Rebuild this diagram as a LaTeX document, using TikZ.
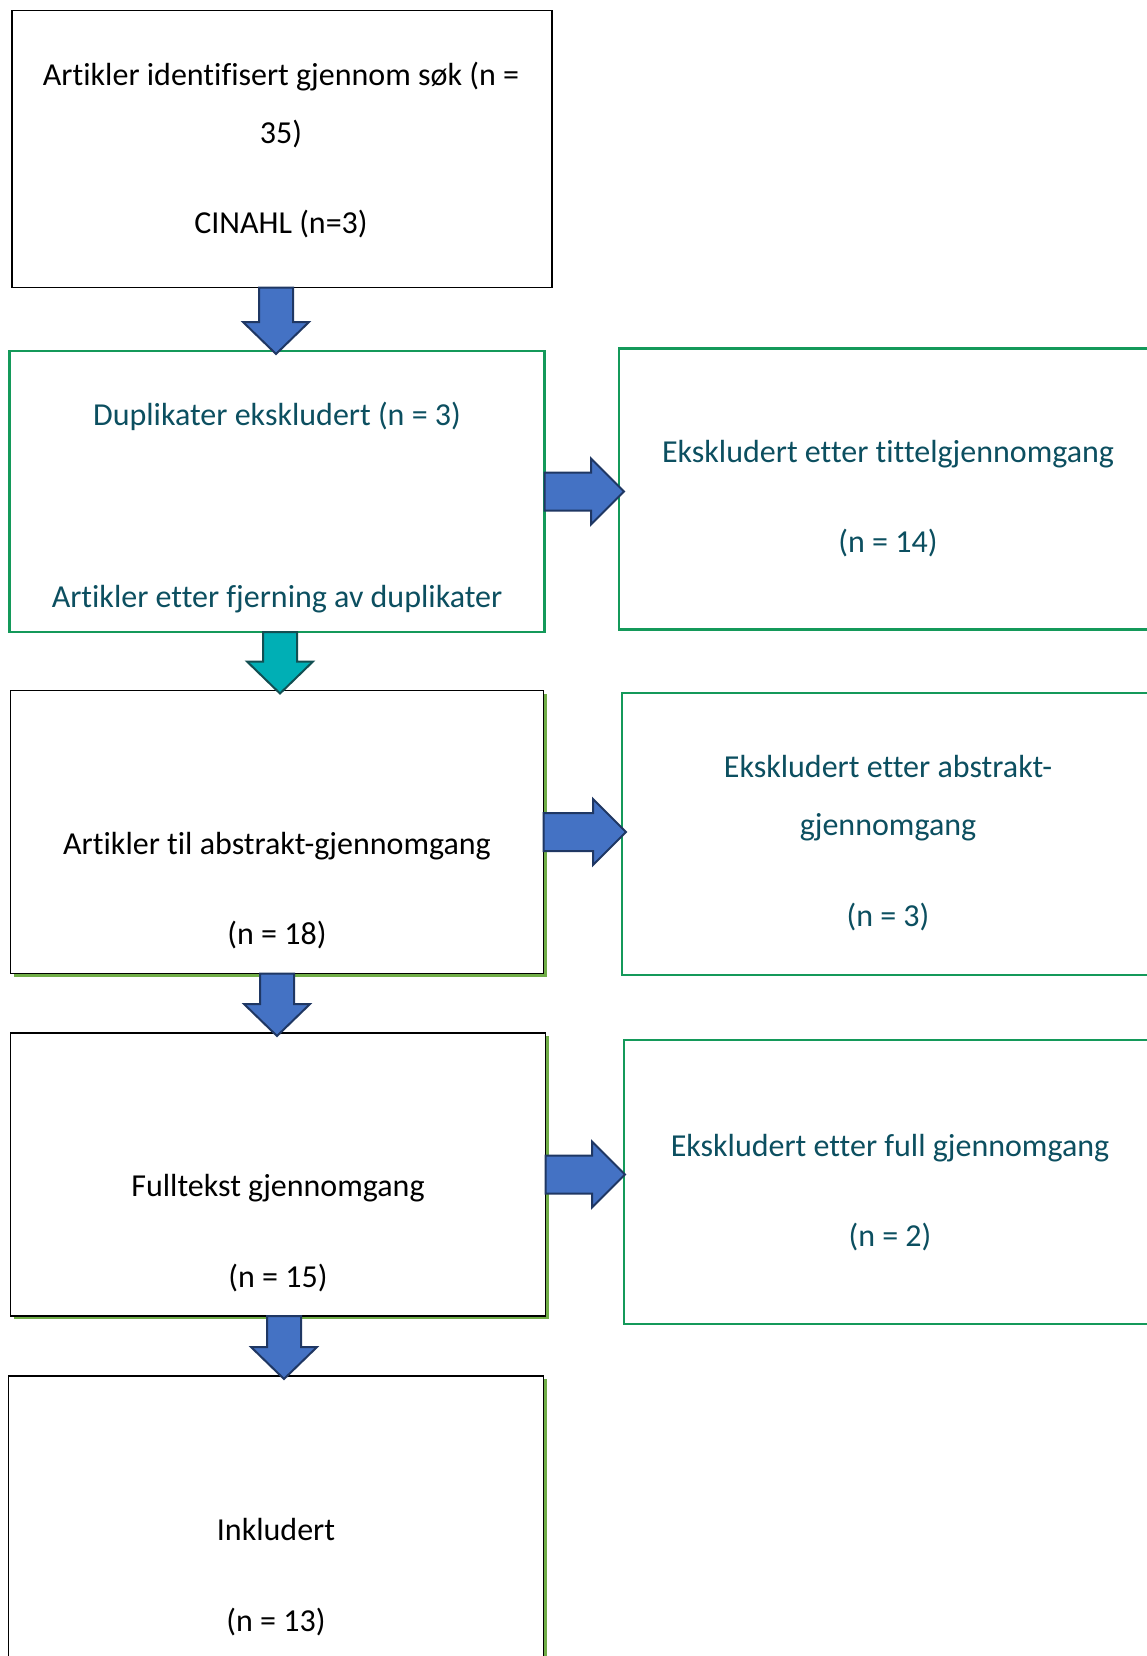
\documentclass[tikz,border=0pt]{standalone}
\usepackage{fontspec}
\setmainfont{Carlito}[Ligatures={NoCommon}]
\usetikzlibrary{calc,shadows}
\definecolor{tealtext}{HTML}{0C4F60}
\definecolor{boxgreen}{HTML}{14995A}
\definecolor{lightgreen}{HTML}{70AD47}
\definecolor{arrowblue}{HTML}{4472C4}
\definecolor{arrowedge}{HTML}{1F3763}
\definecolor{arrowteal}{HTML}{00AFB5}
\definecolor{tealedge}{HTML}{124F52}
\tikzset{
  box/.style={rectangle, draw=black, line width=1.2pt, fill=white, inner sep=0pt, outer sep=0pt},
  greenbox/.style={box, draw=boxgreen, line width=2.2pt},
  shadowbox/.style={box, drop shadow={fill=lightgreen, opacity=1, shadow xshift=3pt, shadow yshift=-3pt}},
  txt/.style={align=center, inner sep=0pt, font=\fontsize{32}{58}\selectfont},
  greentxt/.style={txt, text=tealtext},
  downarrow/.style={fill=arrowblue, draw=arrowedge, line width=2pt, line join=miter,
    to path={let \p1=(\tikztostart), \p2=(\tikztotarget) in
      (\x1-17pt,\y1) -- (\x1+17pt,\y1) -- (\x1+17pt,\y2+32pt) -- (\x1+33pt,\y2+32pt)
      -- (\x1,\y2) -- (\x1-33pt,\y2+32pt) -- (\x1-17pt,\y2+32pt) -- cycle}},
  rightarrow/.style={fill=arrowblue, draw=arrowedge, line width=2pt, line join=miter,
    to path={let \p1=(\tikztostart), \p2=(\tikztotarget) in
      (\x1,\y1+19pt) -- (\x2-33pt,\y1+19pt) -- (\x2-33pt,\y1+33pt) -- (\x2,\y1)
      -- (\x2-33pt,\y1-33pt) -- (\x2-33pt,\y1-19pt) -- (\x1,\y1-19pt) -- cycle}}
}
\begin{document}
\begin{tikzpicture}[x=1pt, y=-1pt]
  \clip (0,0) rectangle (1147,1656);
  \fill[white] (0,0) rectangle (1147,1656);

  % boxes
  \node[box, minimum width=540pt, minimum height=277pt] (b1) at (282,149) {};
  \node[greenbox, minimum width=535pt, minimum height=281pt] (b2) at (277,491.5) {};
  \node[greenbox, minimum width=538pt, minimum height=281pt] (r1) at (888,489) {};
  \node[shadowbox, minimum width=533pt, minimum height=283pt] (b3) at (277,832) {};
  \node[greenbox, minimum width=538pt, minimum height=282pt] (r2) at (891,834) {};
  \node[shadowbox, minimum width=535pt, minimum height=283pt] (b4) at (278,1174.5) {};
  \node[greenbox, minimum width=538pt, minimum height=284pt] (r3) at (893,1182) {};
  \node[shadowbox, minimum width=535pt, minimum height=283pt] (b5) at (276,1517.5) {};

  % texts
  \node[txt] (t1) at (281,150) {Artikler identifisert gjennom søk (n =\\35)\\[32pt]CINAHL (n=3)};
  \node[greentxt] (t2) at (277,508) {Duplikater ekskludert (n = 3)\\[124pt]Artikler etter fjerning av duplikater};
  \node[greentxt] (tr1) at (888,499) {Ekskludert etter tittelgjennomgang\\[32pt](n = 14)};
  \node[txt] (t3) at (277,891) {Artikler til abstrakt-gjennomgang\\[32pt](n = 18)};
  \node[greentxt] (tr2) at (888,843.5) {Ekskludert etter abstrakt-\\gjennomgang\\[33pt](n = 3)};
  \node[txt] (t4) at (278,1233.5) {Fulltekst gjennomgang\\[33pt](n = 15)};
  \node[greentxt] (tr3) at (890,1193) {Ekskludert etter full gjennomgang\\[32pt](n = 2)};
  \node[txt] (t5) at (276,1577.5) {Inkludert\\[33pt](n = 13)};

  % arrows
  \draw[downarrow] ($(b1.south)+(-6,0)$) to ($(b2.north)+(0,3)$);
  \draw[downarrow, fill=arrowteal, draw=tealedge] ($(b2.south)+(3,0)$) to ($(b3.north)+(0,3)$);
  \draw[downarrow] (b3.south) to ($(b4.north)+(0,3)$);
  \draw[downarrow] ($(b4.south)+(6,0)$) to ($(b5.north)+(0,3)$);
  \draw[rightarrow] (b2.east) to ($(r1.west)+(5,0)$);
  \draw[rightarrow] (b3.east) to ($(r2.west)+(4,0)$);
  \draw[rightarrow] (b4.east) to ($(r3.west)+(1,0)$);
\end{tikzpicture}
\end{document}
